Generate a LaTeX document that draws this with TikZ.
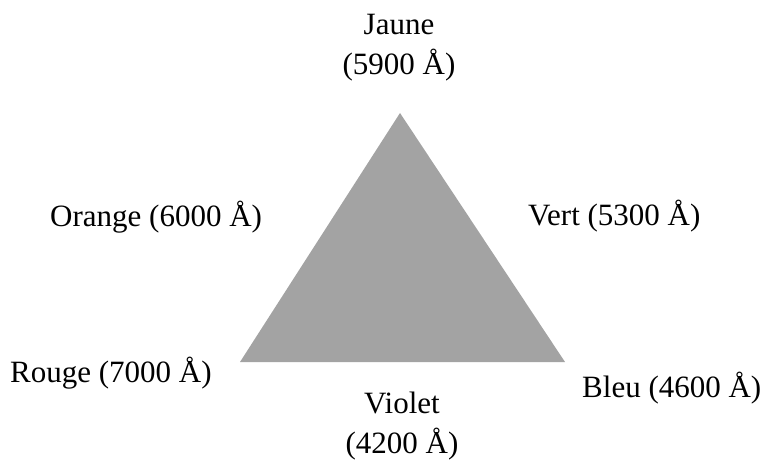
\documentclass[tikz,border=0pt]{standalone}
\usepackage{fontspec}
\setmainfont{Liberation Serif}
\usetikzlibrary{positioning}
\definecolor{prismgray}{HTML}{A3A3A3}

\begin{document}
\begin{tikzpicture}[
  x=1pt, y=-1pt,
  lbl/.style={font=\fontsize{31}{40}\selectfont,inner sep=0pt,align=center}
]
\useasboundingbox (0,0) rectangle (765,462);
% colour triangle
\coordinate (apex) at (400,113);
\coordinate (baseL) at (240,362);
\coordinate (baseR) at (565,362);
\fill[prismgray] (apex) -- (baseL) -- (baseR) -- cycle;
% labels
\node[lbl,anchor=base] (jaune) at (399,75) {Jaune\\(5900 Å)};
\node[lbl,anchor=base west] (orange) at (50,227) {Orange (6000 Å)};
\node[lbl,anchor=base west] (vert) at (528,226) {Vert (5300 Å)};
\node[lbl,anchor=base west] (rouge) at (10,382) {Rouge (7000 Å)};
\node[lbl,anchor=base west] (bleu) at (582,397) {Bleu (4600 Å)};
\node[lbl,anchor=base] (violet) at (402,453) {Violet\\(4200 Å)};
\end{tikzpicture}
\end{document}
